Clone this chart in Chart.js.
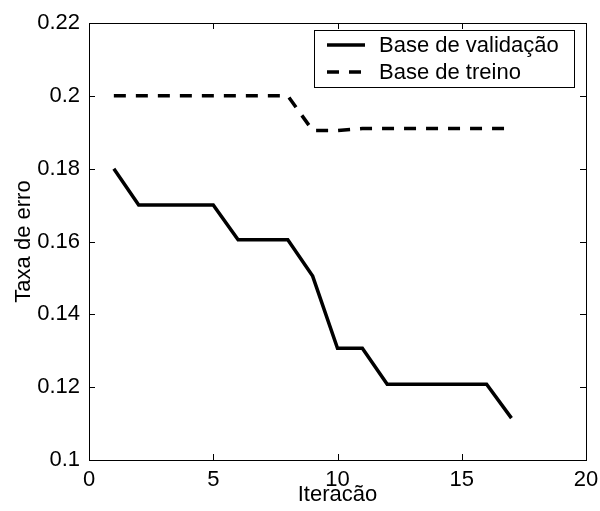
<!DOCTYPE html>
<html lang="pt">
<head>
    <meta charset="UTF-8">
    <title>Taxa de erro por iteração</title>
    <script src="https://cdn.jsdelivr.net/npm/chart.js"></script>
    <style>
        html, body { margin: 0; padding: 0; background: #fff; }
        .chart-container { position: relative; width: 600px; height: 511px; }
    </style>
</head>
<body>
    <div class="chart-container">
        <canvas id="chartCanvas"></canvas>
    </div>

<script>
// data
const iterations = [1, 2, 3, 4, 5, 6, 7, 8, 9, 10, 11, 12, 13, 14, 15, 16, 17];
const validacao = [0.18, 0.17, 0.17, 0.17, 0.17, 0.1605, 0.1605, 0.1605, 0.1505, 0.1307, 0.1307, 0.1208, 0.1208, 0.1208, 0.1208, 0.1208, 0.1115];
const treino = [0.2, 0.2, 0.2, 0.2, 0.2, 0.2, 0.2, 0.2, 0.1905, 0.1905, 0.191, 0.191, 0.191, 0.191, 0.191, 0.191, 0.191];
const seriesLabels = ['Base de validação', 'Base de treino'];
const xTicks = [0, 5, 10, 15, 20];
const yTicks = [0.1, 0.12, 0.14, 0.16, 0.18, 0.2, 0.22];

const FONT = '"Liberation Sans", Arial, sans-serif';
const FSIZE = 22;

function toPoints(xs, ys) {
    return xs.map((x, i) => ({ x: x, y: ys[i] }));
}

// matlab-like box with ticks pointing inwards
const boxTicks = {
    id: 'boxTicks',
    afterDatasetsDraw(chart) {
        const { ctx, chartArea: a, scales } = chart;
        ctx.save();
        ctx.strokeStyle = '#000';
        ctx.lineWidth = 1;
        ctx.strokeRect(a.left + 0.5, a.top + 0.5, a.right - a.left, a.bottom - a.top);
        const len = 6;
        ctx.beginPath();
        scales.x.ticks.forEach(t => {
            const px = Math.round(scales.x.getPixelForValue(t.value)) + 0.5;
            ctx.moveTo(px, a.bottom); ctx.lineTo(px, a.bottom - len);
            ctx.moveTo(px, a.top); ctx.lineTo(px, a.top + len);
        });
        scales.y.ticks.forEach(t => {
            const py = Math.round(scales.y.getPixelForValue(t.value)) + 0.5;
            ctx.moveTo(a.left, py); ctx.lineTo(a.left + len, py);
            ctx.moveTo(a.right, py); ctx.lineTo(a.right - len, py);
        });
        ctx.stroke();
        ctx.restore();
    }
};

// legend box in the upper right corner of the plot
const boxLegend = {
    id: 'boxLegend',
    afterDraw(chart) {
        const { ctx, chartArea: a } = chart;
        ctx.save();
        ctx.font = FSIZE + 'px ' + FONT;
        const widths = chart.data.datasets.map(d => ctx.measureText(d.label).width);
        const w = Math.round(65 + Math.max(...widths) + 15);
        const h = 57;
        const x0 = Math.round(a.right - 12 - w);
        const y0 = Math.round(a.top + 7);
        ctx.fillStyle = '#fff';
        ctx.fillRect(x0, y0, w, h);
        ctx.strokeStyle = '#000';
        ctx.lineWidth = 1;
        ctx.strokeRect(x0 + 0.5, y0 + 0.5, w, h);
        chart.data.datasets.forEach((d, i) => {
            const cy = y0 + 15 + i * 27;
            ctx.beginPath();
            ctx.strokeStyle = d.borderColor;
            ctx.lineWidth = d.borderWidth;
            ctx.setLineDash(d.borderDash || []);
            ctx.moveTo(x0 + 13, cy);
            ctx.lineTo(x0 + 51, cy);
            ctx.stroke();
            ctx.setLineDash([]);
            ctx.fillStyle = '#000';
            ctx.textBaseline = 'middle';
            ctx.fillText(d.label, x0 + 65, cy + 1);
        });
        ctx.restore();
    }
};

const ctx = document.getElementById('chartCanvas').getContext('2d');
const chart = new Chart(ctx, {
    type: 'line',
    data: {
        datasets: [
            {
                label: seriesLabels[0],
                data: toPoints(iterations, validacao),
                borderColor: '#000',
                borderWidth: 3.5,
                pointRadius: 0,
                tension: 0,
                fill: false
            },
            {
                label: seriesLabels[1],
                data: toPoints(iterations, treino),
                borderColor: '#000',
                borderWidth: 3.5,
                borderDash: [12, 10],
                pointRadius: 0,
                tension: 0,
                fill: false
            }
        ]
    },
    options: {
        responsive: true,
        maintainAspectRatio: false,
        animation: false,
        layout: { padding: { top: 23, right: 14, left: 0, bottom: 0 } },
        plugins: {
            legend: { display: false },
            tooltip: { enabled: false }
        },
        scales: {
            x: {
                type: 'linear',
                min: 0,
                max: 20,
                afterBuildTicks: s => { s.ticks = xTicks.map(v => ({ value: v })); },
                afterFit: s => { s.height = 51; s.paddingLeft = 0; s.paddingRight = 0; },
                grid: { display: false, drawTicks: false },
                border: { display: false },
                ticks: {
                    color: '#000',
                    padding: 7,
                    font: { family: FONT, size: FSIZE },
                    maxRotation: 0
                },
                title: {
                    display: true,
                    text: 'Iteracão',
                    color: '#000',
                    font: { family: FONT, size: FSIZE },
                    padding: { top: 0, bottom: 3 }
                }
            },
            y: {
                type: 'linear',
                min: 0.1,
                max: 0.22,
                afterBuildTicks: s => { s.ticks = yTicks.map(v => ({ value: v })); },
                afterFit: s => { s.width = 89; s.paddingTop = 0; s.paddingBottom = 0; },
                grid: { display: false, drawTicks: false },
                border: { display: false },
                ticks: {
                    color: '#000',
                    padding: 9,
                    font: { family: FONT, size: FSIZE },
                    callback: v => String(parseFloat(v.toFixed(2)))
                },
                title: {
                    display: true,
                    text: 'Taxa de erro',
                    color: '#000',
                    font: { family: FONT, size: FSIZE },
                    padding: { top: 11, bottom: 4 }
                }
            }
        }
    },
    plugins: [boxTicks, boxLegend]
});
</script>
</body>
</html>
